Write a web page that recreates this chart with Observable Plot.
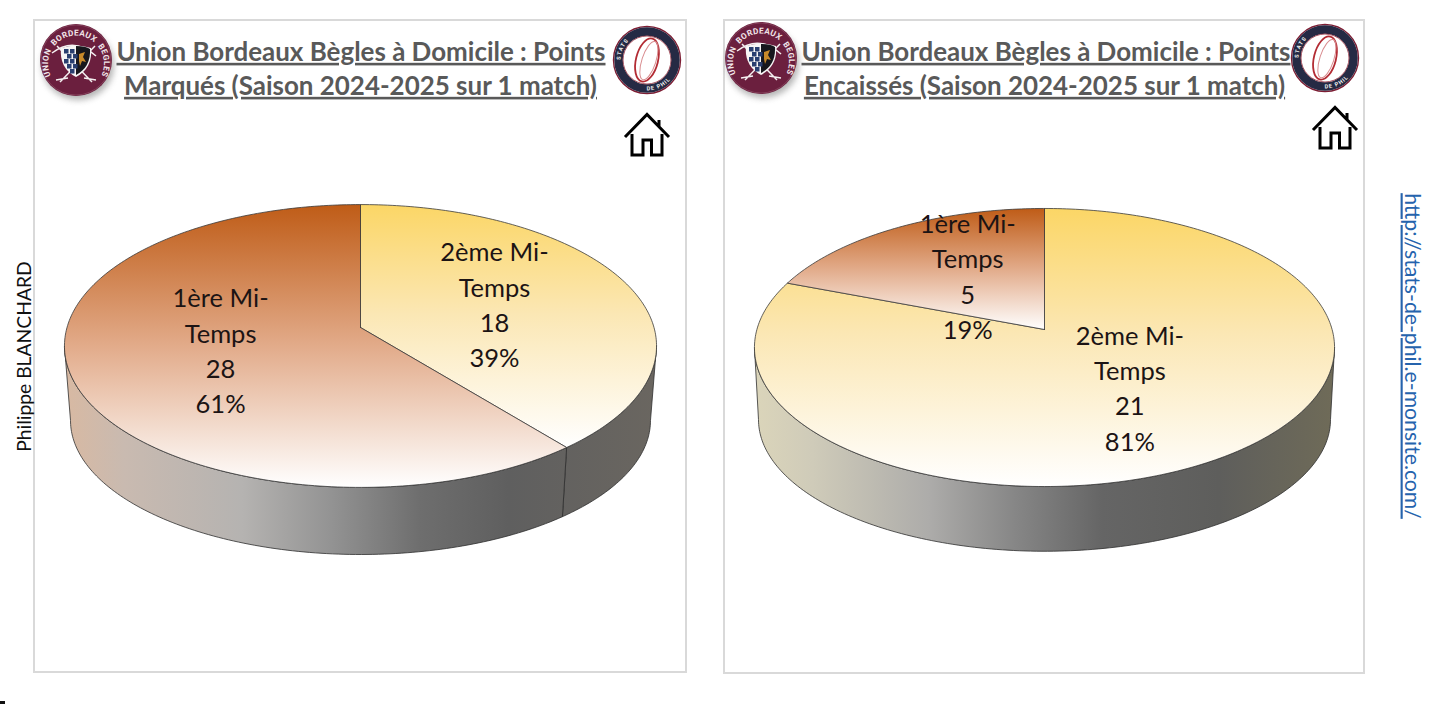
<!DOCTYPE html>
<html lang="fr">
<head>
<meta charset="utf-8">
<script src="https://cdn.jsdelivr.net/npm/d3@7"></script>
<script src="https://cdn.jsdelivr.net/npm/@observablehq/plot@0.6"></script>
<style>
html,body{margin:0;padding:0;background:#fff;overflow:hidden}
svg{display:block}
</style>
</head>
<body>
<div id="chart"></div>
<script>
// ---- data ----
const categories = ["1ère Mi-Temps", "2ème Mi-Temps"];
const pointsMarques = [28, 18];
const pointsEncaisses = [5, 21];
const categoryLines = ["1ère Mi-\nTemps", "2ème Mi-\nTemps"];
const sliceOrder = [1, 0]; // clockwise from 12 o'clock
const titleLeft = ["Union Bordeaux Bègles à Domicile : Points", "Marqués (Saison 2024-2025 sur 1 match)"];
const titleRight = ["Union Bordeaux Bègles à Domicile : Points", "Encaissés (Saison 2024-2025 sur 1 match)"];
const author = "Philippe BLANCHARD";
const siteUrl = "http://stats-de-phil.e-monsite.com/";

// ---- layout ----
const W = 1432, H = 704;
const pieLeft = {id: "a", values: pointsMarques, x0: 360, y0: 327, by0: 402.5, a: 139, ba: 131.7, b: 293.5, bb: 287.5, k: 0.1307, minX: 64, maxX: 656,
  side: [[0,"#d8b9a2"],[.1,"#c9bab0"],[.3,"#b5b3b1"],[.45,"#939393"],[.6,"#6e6e6e"],[.75,"#5f5f5f"],[1,"#6a6660"]]};
const pieRight = {id: "b", values: pointsEncaisses, x0: 1044, y0: 329, by0: 402, a: 136.7, ba: 129.5, b: 287.6, bb: 283.6, k: 0.1295, minX: 754, maxX: 1334,
  side: [[0,"#dbd5ba"],[.1,"#cfcbb9"],[.3,"#adacaa"],[.45,"#868686"],[.6,"#656565"],[.8,"#5e5e5c"],[1,"#6f6b58"]]};
const sliceFill = ["url(#g1)", "url(#g2)"];
const rad = Math.PI / 180;

function project(p, deg, r = 1, bottom = false) {
  const u = Math.sin(deg * rad) * r, v = -Math.cos(deg * rad) * r, d = 1 - p.k * v;
  return bottom
    ? {x: p.x0 + p.bb * u / d, y: p.by0 + p.ba * v / d}
    : {x: p.x0 + p.b * u / d, y: p.y0 + p.a * v / d};
}
function arcDegs(t0, t1) {
  const out = [];
  for (let t = t0; t < t1; t += 1) out.push(t);
  out.push(t1);
  return out;
}
function slices(p) {
  const total = d3.sum(p.values);
  let t = 0;
  return sliceOrder.map(i => {
    const t0 = t, t1 = t + p.values[i] / total * 360;
    t = t1;
    return {i, t0, t1, value: p.values[i], pct: Math.round(p.values[i] / total * 100)};
  });
}
function pieMarks(p) {
  const marks = [];
  const s = slices(p);
  const silR = Math.acos(-p.k) / rad, silL = 360 - silR;
  // side walls
  for (const d of s) {
    const a0 = Math.max(d.t0, silR), a1 = Math.min(d.t1, silL);
    if (a1 <= a0) continue;
    const degs = arcDegs(a0, a1);
    const poly = [...degs.map(t => project(p, t)), ...degs.slice().reverse().map(t => project(p, t, 1, true))];
    poly.push(poly[0]);
    marks.push(Plot.line(poly, {x: "x", y: "y", fill: `url(#side${p.id})`, stroke: "#2e2e2e", strokeWidth: 0.8}));
  }
  // top face
  for (const d of s) {
    const poly = [{x: p.x0, y: p.y0}, ...arcDegs(d.t0, d.t1).map(t => project(p, t)), {x: p.x0, y: p.y0}];
    marks.push(Plot.line(poly, {x: "x", y: "y", fill: sliceFill[d.i], stroke: "#3a3a3a", strokeWidth: 0.8}));
  }
  return marks;
}
function pieLabels(p) {
  const rows = slices(p).map(d => {
    const c = project(p, (d.t0 + d.t1) / 2, 0.495);
    return {x: c.x, y: c.y, text: `${categoryLines[d.i]}\n${d.value}\n${d.pct}%`};
  });
  return Plot.text(rows, {x: "x", y: "y", dy: -2, text: "text", fontSize: 25.5, lineHeight: 1.385, fill: "#1c1414", textAnchor: "middle", lineAnchor: "middle", fontFamily: "Lato"});
}
function defs() {
  const d = d3.create("svg:defs");
  const vert = (id, c) => {
    const g = d.append("linearGradient").attr("id", id).attr("x1", 0).attr("y1", 0).attr("x2", 0).attr("y2", 1);
    c.forEach(([o, col]) => g.append("stop").attr("offset", o).attr("stop-color", col));
  };
  vert("g1", [[0, "#bf5c17"], [.5, "#e2ab8a"], [1, "#ffffff"]]);
  vert("g2", [[0, "#fbd666"], [.45, "#fbe7b4"], [1, "#ffffff"]]);
  for (const p of [pieLeft, pieRight]) {
    const g = d.append("linearGradient").attr("id", "side" + p.id).attr("gradientUnits", "userSpaceOnUse")
      .attr("x1", p.minX).attr("y1", 0).attr("x2", p.maxX).attr("y2", 0);
    p.side.forEach(([o, col]) => g.append("stop").attr("offset", o).attr("stop-color", col));
  }
  d.append("filter").attr("id", "blur").append("feGaussianBlur").attr("stdDeviation", 3);
  return d.node();
}
function logoUBB(cx, cy, r, uid) {
  return () => {
    const g = d3.create("svg:g").attr("transform", `translate(${cx},${cy}) scale(${r / 36})`);
    g.append("ellipse").attr("cx", 2).attr("cy", 5).attr("rx", 36).attr("ry", 35).attr("fill", "#777").attr("opacity", .55).attr("filter", "url(#blur)");
    g.append("circle").attr("r", 36).attr("fill", "#6b1f3e");
    g.append("circle").attr("r", 35).attr("fill", "none").attr("stroke", "#84405a").attr("stroke-width", 1);
    g.append("path").attr("id", uid).attr("fill", "none").attr("d", "M-26,14 A28,28 0 1 1 26,14");
    g.append("text").attr("font-family", "Roboto").attr("font-size", 8.2).attr("font-weight", 700).attr("fill", "#f2e6ea").attr("letter-spacing", .35)
      .append("textPath").attr("href", "#" + uid).attr("startOffset", "50%").attr("text-anchor", "middle").text("UNION  BORDEAUX  BEGLES");
    // crossed blades
    g.append("path").attr("d", "M-24,-7 Q-2,-24 20,-4 M-19,-14 L16,22 M19,-14 L-16,22 M-20,20 L-8,18 M20,20 L8,18").attr("stroke", "#f4eff0").attr("stroke-width", 1.5).attr("fill", "none");
    // shield
    g.append("path").attr("d", "M-15,-12 Q0,-17 15,-12 Q17,8 0,17 Q-17,8 -15,-12 Z").attr("fill", "#f7f5f5");
    g.append("path").attr("d", "M0,-14 Q10,-14 14,-11 Q15,7 0,15 Z").attr("fill", "#17171d");
    const cells = [[-12,-11],[-6,-11],[-9,-6],[-3,-6],[-12,-1],[-6,-1],[-9,4],[-3,4],[-6,9]];
    cells.forEach(([x, y]) => g.append("rect").attr("x", x).attr("y", y).attr("width", 4.5).attr("height", 4.5).attr("fill", "#2a3f70"));
    g.append("path").attr("d", "M3,-6 L9,-8 L7,-3 L10,2 L6,1 L4,6 L3,1 Z").attr("fill", "#c98a2a");
    return g.node();
  };
}
function logoStats(cx, cy, r, uid) {
  return () => {
    const g = d3.create("svg:g").attr("transform", `translate(${cx},${cy}) scale(${r / 34})`);
    g.append("circle").attr("r", 33.5).attr("fill", "#fff").attr("stroke", "#7d1e34").attr("stroke-width", 1.4);
    g.append("circle").attr("r", 28.5).attr("fill", "none").attr("stroke", "#252a44").attr("stroke-width", 8.5);
    g.append("circle").attr("r", 24).attr("fill", "#fff").attr("stroke", "#8a2436").attr("stroke-width", .8);
    g.append("ellipse").attr("rx", 11).attr("ry", 22).attr("transform", "rotate(14)").attr("fill", "none").attr("stroke", "#b32c34").attr("stroke-width", 1.8);
    g.append("ellipse").attr("rx", 7).attr("ry", 20).attr("cx", 2).attr("transform", "rotate(18)").attr("fill", "none").attr("stroke", "#d98d90").attr("stroke-width", 1);
    g.append("path").attr("id", uid + "t").attr("fill", "none").attr("d", "M-26.5,0 A26.5,26.5 0 0 1 14,-22.5");
    g.append("path").attr("id", uid + "b").attr("fill", "none").attr("d", "M0,30.5 A30.5,30.5 0 0 0 30.5,0");
    g.append("text").attr("font-family", "Roboto").attr("font-size", 5.6).attr("font-weight", 700).attr("fill", "#f0f0f0").attr("letter-spacing", 1)
      .append("textPath").attr("href", "#" + uid + "t").attr("startOffset", "6%").text("LES STATS");
    g.append("text").attr("font-family", "Roboto").attr("font-size", 5.6).attr("font-weight", 700).attr("fill", "#f0f0f0").attr("letter-spacing", 1)
      .append("textPath").attr("href", "#" + uid + "b").attr("startOffset", "28%").text("DE PHIL");
    return g.node();
  };
}
function house(x, y) {
  return () => {
    const g = d3.create("svg:g").attr("transform", `translate(${x},${y})`).attr("fill", "none").attr("stroke", "#000").attr("stroke-width", 3);
    g.append("path").attr("d", "M1,24 L23,1.5 L45,24 M35,13 L35,7");
    g.append("path").attr("d", "M8,21 V42 H19 V27 H27.5 V42 H38 V21");
    return g.node();
  };
}

const rects = [
  {x1: 34, y1: 20, x2: 686, y2: 672},
  {x1: 724, y1: 20, x2: 1364, y2: 673}
];
const titleRows = [
  {x: 360.5, y: 52, text: titleLeft[0]},
  {x: 360, y: 86, text: titleLeft[1]},
  {x: 1045.5, y: 52, text: titleRight[0]},
  {x: 1044, y: 86, text: titleRight[1]}
];

const plot = Plot.plot({
  width: W, height: H, margin: 0,
  x: {domain: [0, W], range: [0, W], axis: null},
  y: {domain: [0, H], range: [0, H], axis: null},
  style: {fontFamily: "Lato", background: "#fff"},
  marks: [
    defs,
    Plot.rect(rects, {x1: "x1", y1: "y1", x2: "x2", y2: "y2", fill: "#fff", stroke: "#d9d9d9", strokeWidth: 2}),
    Plot.rect([{x1: 0, y1: 701, x2: 5, y2: 704}], {x1: "x1", y1: "y1", x2: "x2", y2: "y2", fill: "#111"}),
    ...pieMarks(pieLeft),
    ...pieMarks(pieRight),
    pieLabels(pieLeft),
    pieLabels(pieRight),
    logoUBB(76, 60, 36, "ubb1"),
    logoUBB(761, 58, 36, "ubb2"),
    logoStats(647, 60, 34, "st1"),
    logoStats(1325, 58, 34, "st2"),
    house(624, 113),
    house(1312, 106),
    Plot.text(titleRows, {x: "x", y: "y", text: "text", fontSize: 25.95, fontWeight: 700, fill: "#595959", textAnchor: "middle", lineAnchor: "middle", fontFamily: "Lato"}),
    Plot.text([author], {x: () => 24, y: () => 356, text: d => d, rotate: -90, fontSize: 19.3, fill: "#111", fontFamily: "Lato", textAnchor: "middle"}),
    Plot.text([siteUrl], {x: () => 1411, y: () => 355.5, text: d => d, rotate: 90, fontSize: 21.2, fill: "#2563ad", fontFamily: "Lato", textAnchor: "middle"})
  ]
});
const underlined = new Set([...titleLeft, ...titleRight, siteUrl]);
d3.select(plot).selectAll("text")
  .filter(function () { return underlined.has(this.textContent); })
  .style("text-decoration", "underline")
  .style("text-decoration-thickness", "2.2px")
  .style("text-decoration-skip-ink", "none")
  .style("text-underline-offset", "3px");
document.getElementById("chart").appendChild(plot);
</script>
</body>
</html>
